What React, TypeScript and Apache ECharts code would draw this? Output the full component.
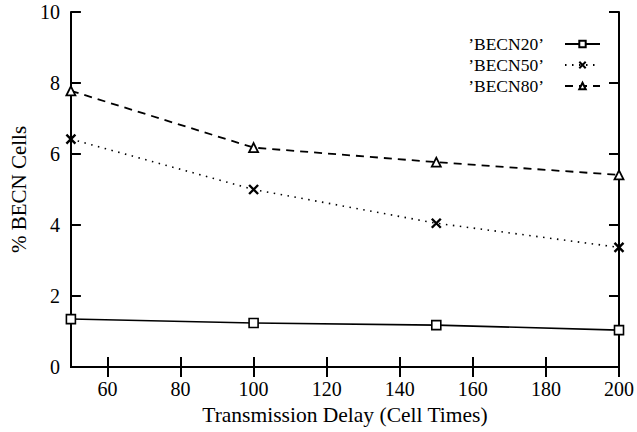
import React, { useEffect, useRef } from "react";
import * as echarts from "echarts";

const delays = [50, 100, 150, 200];
const becn20 = [1.35, 1.24, 1.18, 1.04];
const becn50 = [6.42, 5.0, 4.05, 3.37];
const becn80 = [7.78, 6.18, 5.77, 5.41];
const seriesNames = ["\u2019BECN20\u2019", "\u2019BECN50\u2019", "\u2019BECN80\u2019"];
const xTicks = [60, 80, 100, 120, 140, 160, 180, 200];
const xTitle = "Transmission Delay (Cell Times)";
const yTitle = "% BECN Cells";

const FONT = "'Liberation Serif', serif";

export default function App() {
  const ref = useRef<HTMLDivElement>(null);
  useEffect(() => {
    if (!ref.current) return;
    const chart = echarts.init(ref.current, undefined, { renderer: "svg" });
    const axisLine = { show: true, lineStyle: { color: "#000", width: 2 } };
    const pair = (xs: number[], ys: number[]) => xs.map((x, i) => [x, ys[i]]);
    const baseSeries = {
      type: "line",
      clip: false,
      symbolKeepAspect: true,
      z: 3,
    };
    chart.setOption({
      animation: false,
      backgroundColor: "#fff",
      textStyle: { fontFamily: FONT, color: "#000" },
      grid: { left: 69, right: 17, top: 12, bottom: 65 },
      legend: {
        orient: "vertical",
        right: 31,
        top: 30,
        align: "right",
        itemWidth: 35,
        itemHeight: 8,
        itemGap: 3,
        textStyle: {
          fontFamily: FONT,
          fontSize: 17.5,
          color: "#000",
          padding: [0, 16, 0, 0],
        },
        data: seriesNames,
      },
      xAxis: [
        {
          type: "value",
          min: 50,
          max: 200,
          position: "bottom",
          axisLine,
          axisTick: { show: true, inside: true, length: 10, customValues: xTicks, lineStyle: { color: "#000", width: 2 } },
          axisLabel: { customValues: xTicks, fontFamily: FONT, fontSize: 20, color: "#000", margin: 12 },
          splitLine: { show: false },
          name: xTitle,
          nameLocation: "middle",
          nameGap: 31,
          nameTextStyle: { fontFamily: FONT, fontSize: 21.5, color: "#000" },
        },
        {
          type: "value",
          min: 50,
          max: 200,
          position: "top",
          axisLine,
          axisTick: { show: true, inside: true, length: 10, customValues: xTicks, lineStyle: { color: "#000", width: 2 } },
          axisLabel: { show: false },
          splitLine: { show: false },
        },
      ],
      yAxis: [
        {
          type: "value",
          min: 0,
          max: 10,
          interval: 2,
          position: "left",
          axisLine,
          axisTick: { show: true, inside: true, length: 10, lineStyle: { color: "#000", width: 2 } },
          axisLabel: { fontFamily: FONT, fontSize: 20, color: "#000", margin: 11 },
          splitLine: { show: false },
          name: yTitle,
          nameLocation: "middle",
          nameGap: 40,
          nameTextStyle: { fontFamily: FONT, fontSize: 21, color: "#000" },
        },
        {
          type: "value",
          min: 0,
          max: 10,
          interval: 2,
          position: "right",
          axisLine,
          axisTick: { show: true, inside: true, length: 10, lineStyle: { color: "#000", width: 2 } },
          axisLabel: { show: false },
          splitLine: { show: false },
        },
      ],
      series: [
        {
          ...baseSeries,
          name: seriesNames[0],
          data: pair(delays, becn20),
          symbol: "rect",
          symbolSize: 9,
          lineStyle: { color: "#000", width: 1.6, type: "solid" },
          itemStyle: { color: "#fff", borderColor: "#000", borderWidth: 1.6 },
        },
        {
          ...baseSeries,
          name: seriesNames[1],
          data: pair(delays, becn50),
          symbol: "path://M0,0L10,10M10,0L0,10",
          symbolSize: 9,
          lineStyle: { color: "#000", width: 1.6, type: [1.5, 5.5] },
          itemStyle: { color: "none", borderColor: "#000", borderWidth: 2.4 },
        },
        {
          ...baseSeries,
          name: seriesNames[2],
          data: pair(delays, becn80),
          symbol: "triangle",
          symbolSize: 9,
          lineStyle: { color: "#000", width: 1.8, type: [8, 6] },
          itemStyle: { color: "#fff", borderColor: "#000", borderWidth: 1.8 },
        },
      ],
    });
    return () => chart.dispose();
  }, []);
  return <div ref={ref} style={{ width: 637, height: 432, position: "absolute", left: 0, top: 0 }} />;
}
